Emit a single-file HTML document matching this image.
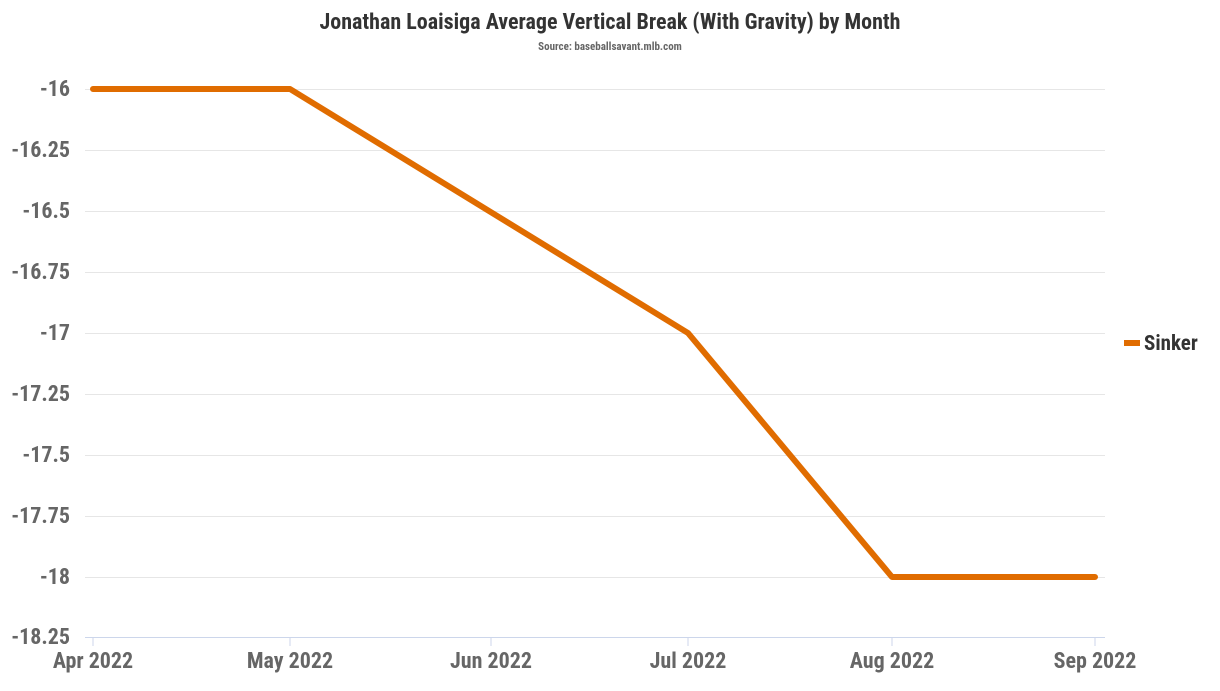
<!DOCTYPE html>
<html><head><style>
body{margin:0;background:#fff;}
svg text{font-family:"Roboto Condensed","Liberation Sans Narrow","Liberation Sans",sans-serif;font-weight:bold;}
</style></head><body>
<svg width="1220" height="686" xmlns="http://www.w3.org/2000/svg">
<rect width="1220" height="686" fill="#fff"/>
<text x="610" y="29" text-anchor="middle" font-size="22" fill="#333">Jonathan Loaisiga Average Vertical Break (With Gravity) by Month</text>
<text x="610" y="50" text-anchor="middle" font-size="11" fill="#666">Source: baseballsavant.mlb.com</text>
<g stroke="#e6e6e6" stroke-width="1">
<line x1="85" x2="1105" y1="89.5" y2="89.5"/>
<line x1="85" x2="1105" y1="150.5" y2="150.5"/>
<line x1="85" x2="1105" y1="211.5" y2="211.5"/>
<line x1="85" x2="1105" y1="272.5" y2="272.5"/>
<line x1="85" x2="1105" y1="333.5" y2="333.5"/>
<line x1="85" x2="1105" y1="394.5" y2="394.5"/>
<line x1="85" x2="1105" y1="455.5" y2="455.5"/>
<line x1="85" x2="1105" y1="516.5" y2="516.5"/>
<line x1="85" x2="1105" y1="577.5" y2="577.5"/>
</g>
<line x1="85" x2="1105" y1="637.5" y2="637.5" stroke="#ccd6eb"/>
<g stroke="#ccd6eb">
<line x1="93" x2="93" y1="637" y2="646"/>
<line x1="290" x2="290" y1="637" y2="646"/>
<line x1="491" x2="491" y1="637" y2="646"/>
<line x1="688" x2="688" y1="637" y2="646"/>
<line x1="892" x2="892" y1="637" y2="646"/>
<line x1="1095" x2="1095" y1="637" y2="646"/>
</g>
<g font-size="22" fill="#666" text-anchor="end">
<text x="70" y="96">-16</text>
<text x="70" y="157">-16.25</text>
<text x="70" y="218">-16.5</text>
<text x="70" y="279">-16.75</text>
<text x="70" y="340">-17</text>
<text x="70" y="401">-17.25</text>
<text x="70" y="462">-17.5</text>
<text x="70" y="523">-17.75</text>
<text x="70" y="584">-18</text>
<text x="70" y="644">-18.25</text>
</g>
<g font-size="22" fill="#666" text-anchor="middle">
<text x="93" y="668">Apr 2022</text>
<text x="290" y="668">May 2022</text>
<text x="491" y="668">Jun 2022</text>
<text x="688" y="668">Jul 2022</text>
<text x="892" y="668">Aug 2022</text>
<text x="1095" y="668">Sep 2022</text>
</g>
<polyline points="93,89 290,89 688,333 892,577 1095,577" fill="none" stroke="#e06c00" stroke-width="6" stroke-linejoin="round" stroke-linecap="round"/>
<line x1="1124" x2="1140" y1="343" y2="343" stroke="#e06c00" stroke-width="6"/>
<text x="1144" y="350" font-size="21" fill="#333">Sinker</text>
</svg>
</body></html>
